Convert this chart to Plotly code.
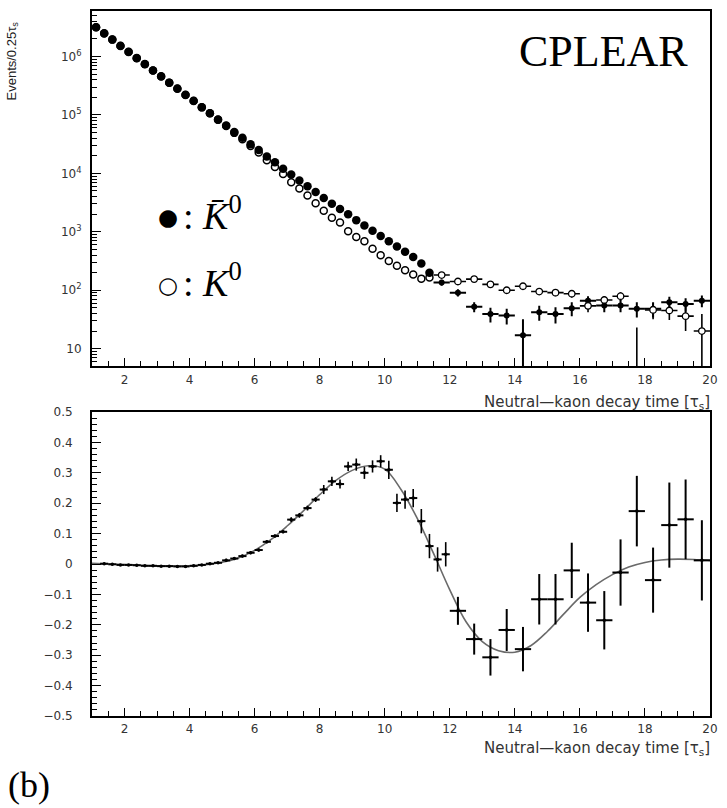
import plotly.graph_objects as go

# ---------------- data ----------------
# top panel: fine bins (0.25 tau_s)
t_fine_top = [1.125, 1.375, 1.625, 1.875, 2.125, 2.375, 2.625, 2.875, 3.125, 3.375,
              3.625, 3.875, 4.125, 4.375, 4.625, 4.875, 5.125, 5.375, 5.625, 5.875,
              6.125, 6.375, 6.625, 6.875, 7.125, 7.375, 7.625, 7.875, 8.125, 8.375,
              8.625, 8.875, 9.125, 9.375, 9.625, 9.875, 10.125, 10.375, 10.625, 10.875,
              11.125, 11.375]
kbar_fine = [3162000, 2483000, 1950000, 1514000, 1202000, 933000, 741000, 575000, 457000, 355000,
             282000, 219000, 174000, 135000, 107000, 83200, 66100, 51300, 40700, 31600,
             25100, 19500, 15500, 12000, 9550, 7590, 6030, 4790, 3800, 3020,
             2450, 1995, 1585, 1288, 1047, 851, 692, 562, 457, 372,
             288, 200]
k_fine = [3190000, 2500000, 1965000, 1525000, 1212000, 941000, 748000, 580000, 461000, 358000,
          284000, 221000, 175000, 136000, 107500, 83300, 64600, 49400, 38600, 29400,
          22900, 16800, 12900, 9770, 7080, 5500, 4170, 3090, 2290, 1740,
          1445, 1023, 813, 692, 513, 398, 316, 263, 219, 186,
          158, 166]

# top panel: wide bins (0.5 tau_s)
t_wide_top = [11.75, 12.25, 12.75, 13.25, 13.75, 14.25, 14.75, 15.25, 15.75, 16.25,
              16.75, 17.25, 17.75, 18.25, 18.75, 19.25, 19.75]
kbar_wide = [135, 91, 52, 39, 37, 17, 42, 39, 49, 66, 55, 55, 48, 48, 62, 58, 66]
kbar_wide_err = [16, 13, 10, 11, 11, 15, 12, 12, 13, 13, 13, 13, 14, 14, 15, 15, 15]
k_wide = [182, 141, 155, 126, 100, 117, 95, 91, 87, 54, 68, 79, 3, 46, 45, 36, 20]
k_wide_err = [16, 13, 14, 13, 12, 13, 12, 12, 12, 12, 12, 13, 20, 14, 14, 20, 19]
k_wide_errm = [16, 13, 14, 13, 12, 13, 12, 12, 12, 12, 12, 13, 2.9, 14, 14, 16, 19]

# bottom panel: asymmetry
t_fine_bot = [1.375, 1.625, 1.875, 2.125, 2.375, 2.625, 2.875, 3.125, 3.375, 3.625,
              3.875, 4.125, 4.375, 4.625, 4.875, 5.125, 5.375, 5.625, 5.875, 6.125,
              6.375, 6.625, 6.875, 7.125, 7.375, 7.625, 7.875, 8.125, 8.375, 8.625,
              8.875, 9.125, 9.375, 9.625, 9.875, 10.125, 10.375, 10.625, 10.875, 11.125,
              11.375, 11.625, 11.875]
asym_fine = [0.001, -0.001, -0.003, -0.003, -0.004, -0.006, -0.006, -0.007, -0.007, -0.008,
             -0.008, -0.006, -0.003, 0.001, 0.004, 0.012, 0.018, 0.026, 0.037, 0.046,
             0.073, 0.092, 0.106, 0.146, 0.160, 0.184, 0.212, 0.245, 0.272, 0.263,
             0.321, 0.327, 0.300, 0.321, 0.338, 0.310, 0.201, 0.212, 0.217, 0.141,
             0.059, 0.015, 0.032]
asym_fine_err = [0.003, 0.003, 0.003, 0.003, 0.003, 0.003, 0.003, 0.003, 0.003, 0.003,
                 0.003, 0.003, 0.003, 0.003, 0.003, 0.005, 0.005, 0.005, 0.005, 0.005,
                 0.005, 0.005, 0.005, 0.008, 0.008, 0.008, 0.008, 0.015, 0.015, 0.015,
                 0.015, 0.02, 0.02, 0.02, 0.02, 0.03, 0.03, 0.03, 0.03, 0.04,
                 0.04, 0.04, 0.04]
t_wide_bot = [12.25, 12.75, 13.25, 13.75, 14.25, 14.75, 15.25, 15.75, 16.25, 16.75,
              17.25, 17.75, 18.25, 18.75, 19.25, 19.75]
asym_wide = [-0.154, -0.247, -0.307, -0.217, -0.280, -0.116, -0.116, -0.021, -0.127, -0.185,
             -0.028, 0.174, -0.053, 0.128, 0.147, 0.012]
asym_wide_err = [0.046, 0.051, 0.060, 0.069, 0.073, 0.083, 0.083, 0.091, 0.096, 0.096,
                 0.109, 0.116, 0.107, 0.140, 0.131, 0.132]

# fitted curve
curve_t = [1.0, 1.5, 2.0, 2.5, 3.0, 3.5, 4.0, 4.5, 5.0, 5.5, 6.0, 6.5, 7.0, 7.5, 8.0, 8.5,
           9.0, 9.5, 10.0, 10.5, 11.0, 11.5, 12.0, 12.5, 13.0, 13.5, 14.0, 14.5, 15.0,
           15.5, 16.0, 16.5, 17.0, 17.5, 18.0, 18.5, 19.0, 19.5, 20.0]
curve_v = [0.002, 0.000, -0.002, -0.004, -0.006, -0.007, -0.006, -0.002, 0.006, 0.020,
           0.045, 0.080, 0.125, 0.175, 0.228, 0.275, 0.308, 0.323, 0.312, 0.245,
           0.150, 0.035, -0.085, -0.190, -0.255, -0.285, -0.290, -0.268, -0.222,
           -0.165, -0.110, -0.068, -0.035, -0.010, 0.005, 0.013, 0.016, 0.015, 0.012]

x_ticks = [2, 4, 6, 8, 10, 12, 14, 16, 18, 20]
log_tickvals = [10, 100, 1000, 10000, 100000, 1000000]
log_ticktext = ["10", "10<sup>2</sup>", "10<sup>3</sup>", "10<sup>4</sup>",
                "10<sup>5</sup>", "10<sup>6</sup>"]

# ---------------- figure ----------------
W, H = 727, 808
ML, MR, MT, MB = 92, 17, 4, 92
PW, PH = W - ML - MR, H - MT - MB


def px_x(px):
    return (px - ML) / PW


def px_y(py):
    return (H - MB - py) / PH


fig = go.Figure()

# top panel
fig.add_trace(go.Scatter(x=t_fine_top, y=k_fine, mode="markers", xaxis="x", yaxis="y",
                         marker=dict(symbol="circle", size=7, color="white",
                                     line=dict(color="black", width=1.5))))
fig.add_trace(go.Scatter(x=t_fine_top, y=kbar_fine, mode="markers", xaxis="x", yaxis="y",
                         marker=dict(symbol="circle", size=8.5, color="black",
                                     line=dict(color="black", width=0))))
fig.add_trace(go.Scatter(x=t_wide_top, y=kbar_wide, mode="markers", xaxis="x", yaxis="y",
                         marker=dict(symbol="circle", size=6, color="black"),
                         error_x=dict(type="constant", value=0.25, thickness=2, width=0, color="black"),
                         error_y=dict(type="data", array=kbar_wide_err, thickness=2, width=0, color="black")))
fig.add_trace(go.Scatter(x=t_wide_top, y=k_wide, mode="markers", xaxis="x", yaxis="y",
                         marker=dict(symbol="circle", size=6.5, color="white",
                                     line=dict(color="black", width=1.3)),
                         error_x=dict(type="constant", value=0.25, thickness=1.6, width=0, color="black"),
                         error_y=dict(type="data", array=k_wide_err, arrayminus=k_wide_errm,
                                      symmetric=False, thickness=1.6, width=0, color="black")))

# bottom panel
fig.add_trace(go.Scatter(x=curve_t, y=curve_v, mode="lines", xaxis="x2", yaxis="y2",
                         line=dict(color="#6a6a6a", width=1.6, shape="spline")))
fig.add_trace(go.Scatter(x=t_fine_bot, y=asym_fine, mode="markers", xaxis="x2", yaxis="y2",
                         marker=dict(symbol="circle", size=3.5, color="black"),
                         error_x=dict(type="constant", value=0.125, thickness=2, width=0, color="black"),
                         error_y=dict(type="data", array=asym_fine_err, thickness=1.6, width=0, color="black")))
fig.add_trace(go.Scatter(x=t_wide_bot, y=asym_wide, mode="markers", xaxis="x2", yaxis="y2",
                         marker=dict(symbol="circle", size=3.5, color="black"),
                         error_x=dict(type="constant", value=0.25, thickness=2, width=0, color="black"),
                         error_y=dict(type="data", array=asym_wide_err, thickness=2, width=0, color="black")))

tick_font = dict(family="DejaVu Sans", size=12, color="#333333")

common_x = dict(range=[1, 20], tickmode="array", tickvals=x_ticks, ticks="inside", ticklen=8,
                tickwidth=1.3, tickcolor="black", showline=True, linecolor="black", linewidth=2,
                mirror=True, showgrid=False, zeroline=False, tickfont=tick_font,
                ticklabelstandoff=1,
                minor=dict(dtick=0.5, tick0=1, ticks="inside", ticklen=5, tickwidth=1.3,
                           tickcolor="black", showgrid=False))

minor_log = [k * 10 ** d for d in range(0, 7) for k in range(2, 10)]

fig.update_layout(
    width=W, height=H,
    margin=dict(l=ML, r=MR, t=MT, b=MB),
    showlegend=False,
    plot_bgcolor="white", paper_bgcolor="white",
    xaxis=dict(domain=[0, 1], anchor="y", **common_x),
    yaxis=dict(domain=[px_y(363), 1], anchor="x", type="log", range=[0.695, 6.78],
               tickmode="array", tickvals=log_tickvals, ticktext=log_ticktext,
               ticks="inside", ticklen=9, tickwidth=1.3, tickcolor="black",
               showline=True, linecolor="black", linewidth=2, mirror=True,
               showgrid=False, zeroline=False, tickfont=tick_font, ticklabelstandoff=6,
               minor=dict(tickmode="array", tickvals=minor_log, ticks="inside", ticklen=5,
                          tickwidth=1.3, tickcolor="black", showgrid=False)),
    xaxis2=dict(domain=[0, 1], anchor="y2", **common_x),
    yaxis2=dict(domain=[0, px_y(409)], anchor="x2", range=[-0.5, 0.5],
                tickmode="linear", tick0=0, dtick=0.1, tickformat=".1~f",
                ticks="inside", ticklen=9, tickwidth=1.3, tickcolor="black",
                showline=True, linecolor="black", linewidth=2, mirror=True,
                showgrid=False, zeroline=False, tickfont=tick_font, ticklabelstandoff=15,
                minor=dict(dtick=0.02, ticks="inside", ticklen=5, tickwidth=1.3,
                           tickcolor="black", showgrid=False)),
)

ann = []
title_txt = "Neutral\u2014kaon decay time [\u03c4<sub>s</sub>]"
ann.append(dict(text=title_txt, xref="paper", yref="paper", x=px_x(712), y=px_y(399),
                xanchor="right", yanchor="middle", showarrow=False,
                font=dict(family="DejaVu Sans", size=15, color="#333333")))
ann.append(dict(text=title_txt, xref="paper", yref="paper", x=px_x(712), y=px_y(749),
                xanchor="right", yanchor="middle", showarrow=False,
                font=dict(family="DejaVu Sans", size=15, color="#333333")))
ann.append(dict(text="Events/0.25\u03c4<sub>s</sub>", xref="paper", yref="paper",
                x=px_x(12), y=px_y(55), xanchor="center", yanchor="middle", textangle=-90,
                showarrow=False, font=dict(family="Liberation Sans", size=13, color="#222222")))
ann.append(dict(text="CPLEAR", xref="paper", yref="paper", x=px_x(690), y=px_y(45),
                xanchor="right", yanchor="middle", showarrow=False,
                font=dict(family="Liberation Serif", size=44, color="black")))
# legend
ann.append(dict(text="\u25cf", xref="paper", yref="paper", x=px_x(168), y=px_y(212),
                xanchor="center", yanchor="middle", showarrow=False,
                font=dict(family="DejaVu Sans", size=23, color="black")))
ann.append(dict(text=": <i>K\u0304</i><sup>0</sup>", xref="paper", yref="paper",
                x=px_x(181), y=px_y(208), xanchor="left", yanchor="middle", showarrow=False,
                font=dict(family="Liberation Serif", size=38, color="black")))
ann.append(dict(text="\u25cb", xref="paper", yref="paper", x=px_x(168), y=px_y(281),
                xanchor="center", yanchor="middle", showarrow=False,
                font=dict(family="DejaVu Sans", size=23, color="black")))
ann.append(dict(text=": <i>K</i><sup>0</sup>", xref="paper", yref="paper",
                x=px_x(181), y=px_y(276), xanchor="left", yanchor="middle", showarrow=False,
                font=dict(family="Liberation Serif", size=38, color="black")))
ann.append(dict(text="(b)", xref="paper", yref="paper", x=px_x(6), y=px_y(786),
                xanchor="left", yanchor="middle", showarrow=False,
                font=dict(family="Liberation Serif", size=36, color="black")))
fig.update_layout(annotations=ann)

fig.write_html("out.html", config={"displayModeBar": False},
               post_script="document.body.style.margin='0';document.body.style.padding='0';")
